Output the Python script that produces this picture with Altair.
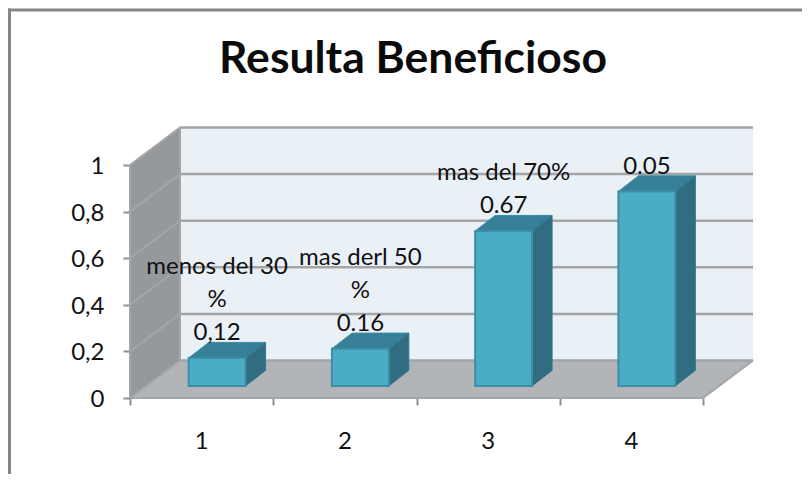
import altair as alt
import pandas as pd

CATEGORIES = [1, 2, 3, 4]
VALUES = [0.12, 0.16, 0.665, 0.835]
LABELS = [["menos del 30", "%", "0,12"], ["mas derl 50", "%", "0.16"], ["mas del 70%", "0.67"], ["0.05"]]
Y_TICKS = [0, 0.2, 0.4, 0.6, 0.8, 1]
X_TICKS = [0.5, 1.5, 2.5, 3.5, 4.5]
TITLE = "Resulta Beneficioso"

# projection of the pseudo-3D depth, in data units
DX, DY = 0.349, 0.161
BAR_W = 0.397
BAR_SHIFT = 0.108      # horizontal shift of bar front from the category centre
BAR_LIFT = 0.0515      # vertical shift of bar front from the front plane
BAR_DX, BAR_DY = 0.14, 0.067
X0, X1 = 0.5, 4.5

XS = alt.Scale(domain=[-0.3517, 5.1911], nice=False, zero=False)
YS = alt.Scale(domain=[-0.3262, 1.6738], nice=False, zero=False)

FONT = "Lato"
GRID = "#a3a5a7"
AXC = "#8f8f8f"
TXT = "#111111"

X_ENC = alt.X("x:Q", scale=XS, title=None, axis=alt.Axis(
    values=X_TICKS, labels=False, domain=False, grid=False, offset=-76,
    tickSize=7, tickWidth=2, tickColor=AXC))
Y_ENC = alt.Y("y:Q", scale=YS, title=None, axis=alt.Axis(
    values=Y_TICKS, domain=False, grid=False, offset=-122,
    tickSize=7, tickWidth=2, tickColor=AXC, labelPadding=19, labelOffset=1.5,
    labelFont=FONT, labelFontSize=24, labelColor=TXT,
    labelExpr="replace(toString(datum.value), '.', ',')"))


def para(xa, xb, ddx, base, ddy, fid):
    """Horizontal parallelogram as an area."""
    return [
        dict(id=fid, x=xa, y=base, y2=base),
        dict(id=fid, x=xa + ddx, y=base + ddy, y2=base),
        dict(id=fid, x=xb, y=base + ddy, y2=base),
        dict(id=fid, x=xb + ddx, y=base + ddy, y2=base + ddy),
    ]


def area(rows, fill, stroke=None, sw=1.5):
    kw = dict(fill=fill, interpolate="linear")
    if stroke:
        kw.update(stroke=stroke, strokeWidth=sw)
    return alt.Chart(pd.DataFrame(rows)).mark_area(**kw).encode(
        x=X_ENC, y=Y_ENC, y2="y2:Q", detail="id:N",
    )


def rules(rows, color, width):
    return alt.Chart(pd.DataFrame(rows)).mark_rule(color=color, strokeWidth=width).encode(
        x=X_ENC, x2="x2:Q", y=Y_ENC, y2="y2:Q",
    )


wall = alt.Chart(pd.DataFrame([dict(x=X0 + DX, x2=X1 + DX, y=DY, y2=1 + DY)])).mark_rect(color="#e9f0f6").encode(
    x=X_ENC, x2="x2:Q", y=Y_ENC, y2="y2:Q",
)

left_wall = area(
    [dict(id="w", x=X0, y=1, y2=0), dict(id="w", x=X0 + DX, y=1 + DY, y2=DY)],
    "#96999b",
)
floor = area(para(X0, X1, DX, 0, DY, "f"), "#b1b5b8")

grid_back = rules([dict(x=X0 + DX, x2=X1 + DX, y=t + DY, y2=t + DY) for t in Y_TICKS], GRID, 2.5)
grid_left = rules([dict(x=X0, x2=X0 + DX, y=t, y2=t + DY) for t in Y_TICKS], GRID, 2)
edges = rules(
    [dict(x=X0, x2=X1, y=0, y2=0),
     dict(x=X1, x2=X1 + DX, y=0, y2=DY),
     dict(x=X0, x2=X0, y=0, y2=1),
     dict(x=X0 + DX, x2=X0 + DX, y=DY, y2=1 + DY)],
    GRID, 2,
)

front_rows, top_rows, side_rows, cat_rows = [], [], [], []
label_rows = []
for c, v, lines in zip(CATEGORIES, VALUES, LABELS):
    xl = c + BAR_SHIFT - BAR_W / 2
    xr = xl + BAR_W
    b = BAR_LIFT
    front_rows.append(dict(x=xl, x2=xr, y=b, y2=b + v))
    top_rows += para(xl, xr, BAR_DX, b + v, BAR_DY, f"t{c}")
    side_rows += [
        dict(id=f"s{c}", x=xr, y=b + v, y2=b),
        dict(id=f"s{c}", x=xr + BAR_DX, y=b + v + BAR_DY, y2=b + BAR_DY),
    ]
    for n, line in enumerate(reversed(lines)):
        label_rows.append(dict(x=c + BAR_SHIFT, y=b + v + BAR_DY, label=line, n=n))
    cat_rows.append(dict(x=c, y=-0.1885, label=str(c)))

front = alt.Chart(pd.DataFrame(front_rows)).mark_rect(color="#4bacc6", stroke="#3c8fa7", strokeWidth=2).encode(
    x=X_ENC, x2="x2:Q", y=Y_ENC, y2="y2:Q",
)
top = area(top_rows, "#358096", "#3a8aa2", 1)
side = area(side_rows, "#306d80", "#34788d", 1)

label_df = pd.DataFrame(label_rows)
label_layers = [
    alt.Chart(label_df[label_df.n == n]).mark_text(
        font=FONT, fontSize=24, color=TXT, baseline="middle", dy=-9 - 33 * n,
    ).encode(x=X_ENC, y=Y_ENC, text="label:N")
    for n in range(3)
]
cats = alt.Chart(pd.DataFrame(cat_rows)).mark_text(
    font=FONT, fontSize=24, color=TXT,
).encode(x=X_ENC, y=Y_ENC, text="label:N")

frame_top = alt.Chart(pd.DataFrame({"a": [0]})).mark_rule(color="#868686", strokeWidth=3).encode(
    x=alt.value(0), x2=alt.value(794), y=alt.value(2), y2=alt.value(2))
frame_left = alt.Chart(pd.DataFrame({"a": [0]})).mark_rule(color="#868686", strokeWidth=3).encode(
    x=alt.value(1.5), x2=alt.value(1.5), y=alt.value(0.5), y2=alt.value(466))

chart = alt.layer(
    wall, left_wall, floor, grid_back, grid_left, edges, top, side, front, *label_layers, cats,
    frame_top, frame_left,
).properties(
    width=794, height=466, padding=0, autosize="none",
    title=alt.TitleParams(TITLE, font=FONT, fontSize=44.5, fontWeight="bold", color="#0b0b0b",
                          anchor="middle", dx=8, offset=-119, baseline="bottom"),
).configure_view(stroke=None)

chart.save("out.html", embed_options={"renderer": "svg", "actions": False})
